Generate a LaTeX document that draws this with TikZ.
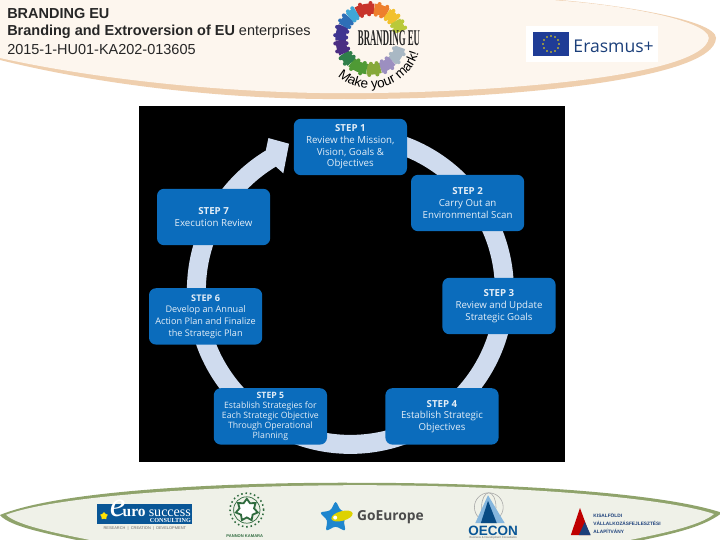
\documentclass[tikz,border=0pt]{standalone}
\usepackage{fontspec}
\setmainfont{Open Sans}
\newfontfamily\headfont{Liberation Sans}
\newfontfamily\logofont{Liberation Serif}
\usetikzlibrary{arrows.meta, positioning, shapes.geometric, calc, decorations.text}
\definecolor{cstep}{HTML}{0B6CBC}
\definecolor{cring}{HTML}{CFDBEE}
\definecolor{ctext}{HTML}{E4EEF7}
\definecolor{ccream}{HTML}{FDF6EE}
\definecolor{ctan}{HTML}{EFCFAE}
\definecolor{csage}{HTML}{EFF1E8}
\definecolor{cmoss}{HTML}{8FA36B}
\definecolor{cflag}{HTML}{1F3C96}
\definecolor{cnavy}{HTML}{1B3F7A}
\definecolor{cseal}{HTML}{2F6B3E}
\definecolor{cstar}{HTML}{1E86CE}
\tikzset{
  stepbox/.style={fill=cstep, rounded corners=5pt, minimum width=2.83cm, minimum height=1.41cm, inner sep=1pt,
    align=center, text=ctext, font=\fontsize{6.9}{8.3}\selectfont, execute at begin node={\rule{0pt}{7.5pt}}},
  stepboxtight/.style={stepbox, font=\fontsize{6.2}{7.1}\selectfont},
  ring/.style={cring, line width=0.475cm},
  head/.style={font=\headfont\fontsize{10.3}{12}\selectfont, anchor=west, text=black!85, inner sep=0pt},
  tiny/.style={font=\headfont\fontsize{2.6}{3}\selectfont, text=black!60},
}
\begin{document}
\begin{tikzpicture}
  \clip (0,0) rectangle (18,13.5);
  \fill[white] (0,0) rectangle (18,13.5);
  % ---------- top band
  \fill[ctan] (0,12) .. controls (2.5,11.375) and (5.75,11) .. (8.6,11.025) .. controls (12.5,11) and (17.875,11.5) .. (17.9,12.55)
    .. controls (17.9,13) and (15.5,13.375) .. (14,13.5) -- (0,13.5) -- cycle;
  \fill[ccream] (0,12.05) .. controls (2.5,11.5) and (5.75,11.17) .. (8.6,11.17) .. controls (12.5,11.17) and (17.6,11.6) .. (17.72,12.55)
    .. controls (17.7,13) and (15.5,13.39) .. (13.8,13.5) -- (0,13.5) -- cycle;
  \node[head] (brand) at (0.175,13.15) {\textbf{BRANDING EU}};
  \node[head] (title) at (0.175,12.7) {\textbf{Branding and Extroversion of EU} enterprises};
  \node[head] (code) at (0.175,12.27) {2015-1-HU01-KA202-013605};
  % ---------- round logo
  \coordinate (badge) at (9.275,12.525);
  \foreach \a/\b/\c in {118/84/C8342B, 84/58/EE7F2D, 58/36/F2C12E, 36/14/B9C93A, -16/-46/A9B8C4, -46/-72/9C8FC0, -72/-98/86A83A, -98/-130/4F9A35,
    -130/-152/2F7F4A, -152/-178/4B2E83, -178/-205/3F3590, -205/-225/2E6FB7, -225/-242/3FA7D6} {
    \definecolor{cpiece}{HTML}{\c}
    \draw[cpiece, line width=0.26cm] (badge) ++(\a:0.76) arc[start angle=\a, end angle=\b, radius=0.76];
    \foreach \t in {0.2,0.7} \fill[cpiece] ($(badge)+({\a+(\b-\a)*\t}:0.62)$) circle (0.05) ($(badge)+({\a+(\b-\a)*(1-\t)}:0.9)$) circle (0.05);
  }
  \node[font=\logofont\bfseries\fontsize{16}{16}\selectfont, xscale=0.39, text=black!85] (badgename) at (9.725,12.54) {BRANDING EU};
  \path[decorate, decoration={text along path, text align=center,
      text={|\headfont\fontsize{9.6}{12}\selectfont|Make your mark!}}]
    (badge) ++(-140:1.24) arc[start angle=-140, end angle=-8, radius=1.24];
  % ---------- erasmus logo
  \fill[white] (13.15,11.95) rectangle (16.45,12.85);
  \fill[cflag] (13.33,12.1) rectangle (14.22,12.7);
  \coordinate (flag) at (13.775,12.4);
  \foreach \a in {0,30,...,330} \fill[yellow!85!orange] (flag) ++(\a:0.2) circle (0.022);
  \node[font=\fontsize{12.5}{12}\selectfont, text=cnavy, anchor=west, inner sep=0pt] (erasmus) at (14.33,12.33) {Erasmus+};
  % ---------- bottom band
  \fill[cmoss] (0,0.625) .. controls (1.5,1.25) and (5.75,1.45) .. (9,1.43) .. controls (12.5,1.43) and (16.5,1.2) .. (18.05,0.68)
    .. controls (17.5,0.25) and (16.5,0.1) .. (15.5,-0.125) -- (2.5,-0.125) .. controls (1.5,0.1) and (0.25,0.3) .. (0,0.625);
  \fill[csage] (0.15,0.63) .. controls (1.5,1.14) and (5.75,1.37) .. (9,1.37) .. controls (12.5,1.37) and (16.5,1.1) .. (17.85,0.65)
    .. controls (17.5,0.35) and (16.5,0.15) .. (15.5,-0.05) -- (2.5,-0.05) .. controls (1.5,0.15) and (0.45,0.35) .. (0.15,0.63);
  % ---------- eurosuccess logo
  \fill[cstep!80!black] (2.43,0.4) rectangle (4.8,0.9);
  \node[star, star points=5, fill=yellow!85!orange, minimum size=0.2cm, inner sep=0pt] (eurostar) at (2.6,0.6) {};
  \node[font=\logofont\itshape\fontsize{25}{25}\selectfont, text=white, inner sep=0pt] (euroe) at (2.94,0.8) {e};
  \node[font=\logofont\bfseries\fontsize{11}{11}\selectfont, text=white, anchor=west, inner sep=0pt] (euro) at (3.06,0.68) {uro};
  \node[font=\logofont\fontsize{10}{10}\selectfont, text=white, anchor=east, inner sep=0pt] (success) at (4.78,0.68) {success};
  \node[font=\logofont\bfseries\fontsize{4.4}{4.4}\selectfont, text=white, anchor=east, inner sep=0pt] (consulting) at (4.78,0.49) {CONSULTING};
  \node[tiny, font=\headfont\fontsize{2.8}{3}\selectfont] (tagline) at (3.62,0.3) {RESEARCH \ | \ CREATION \ | \ DEVELOPMENT};
  % ---------- seal logo
  \coordinate (seal) at (6.17,0.75);
  \draw[cseal, line width=1.1pt, dotted] (seal) circle (0.42);
  \draw[cseal, line width=0.5pt] (seal) circle (0.33);
  \node[star, star points=7, star point ratio=1.5, draw=cseal, line width=1.3pt, fill=white, minimum size=0.56cm, inner sep=0pt] (sealstar) at (seal) {};
  \node[tiny, font=\headfont\bfseries\fontsize{2.9}{4}\selectfont, text=cseal] (sealname) at (6.12,0.09) {PANNON KAMARA};
  % ---------- goeurope logo
  \node[star, star points=5, star point ratio=2, fill=cstar, rounded corners=2pt, minimum size=0.85cm, inner sep=0pt] (gostar) at (8.39,0.56) {};
  \node[ellipse, fill=yellow!70!olive, minimum width=0.55cm, minimum height=0.24cm, inner sep=0pt, rotate=15] (goblob) at (8.55,0.6) {};
  \node[circle, fill=white, minimum size=0.1cm, inner sep=0pt] (godot) at (8.38,0.56) {};
  \node[font=\bfseries\fontsize{9.8}{10}\selectfont, text=black!70, anchor=west, inner sep=0pt] (goname) at (8.92,0.56) {GoEurope};
  % ---------- oecon logo
  \coordinate (dome) at (12.22,0.82);
  \draw[black!35, line width=0.4pt] (dome) circle (0.36);
  \draw[black!35, line width=0.4pt] (dome) ellipse (0.18 and 0.36);
  \fill[cstep!50!white] (12.2,1.12) -- (11.88,0.42) -- (12.62,0.42) -- cycle;
  \fill[cstep!70!black] (12.2,0.98) -- (12.02,0.42) -- (12.42,0.42) -- cycle;
  \node[font=\headfont\bfseries\fontsize{9.6}{10}\selectfont, text=cstep!80!black, inner sep=0pt] (oecon) at (12.33,0.23) {OECON};
  \node[tiny, font=\headfont\fontsize{2}{2}\selectfont] (oeconline) at (12.33,0.05) {Business \& Development Consultants};
  % ---------- foundation logo
  \fill[red!75!black] (14.5,0.8) -- (14.27,0.12) -- (14.75,0.12) -- cycle;
  \fill[cnavy] (14.62,0.45) -- (14.47,0.12) -- (14.77,0.12) -- cycle;
  \node[font=\headfont\bfseries\fontsize{3.4}{5.6}\selectfont, text=cnavy, align=left, anchor=west, inner sep=0pt] (foundation) at (14.83,0.42)
    {KISALFÖLDI\\VÁLLALKOZÁSFEJLESZTÉSI\\ALAPÍTVÁNY};
  % ---------- steps on black
  \fill[black] (3.475,1.95) rectangle (14.125,10.85);
  \coordinate (hub) at (8.76,6.24);
  \coordinate (ringstart) at ($(hub)+(90:3.85)$);
  \draw[ring] (ringstart) arc[start angle=90, end angle=-241, radius=3.85];
  \fill[cring] ($(hub)+(118.3:4.325)$) -- ($(hub)+(112.7:3.975)$) -- ($(hub)+(119.8:3.375)$) -- ($(hub)+(121:3.6)$) -- ($(hub)+(121:4.1)$) -- cycle;
  \node[stepbox] (step1) at (8.76,9.825) {\textbf{STEP 1}\\Review the Mission,\\Vision, Goals \&\\Objectives};
  \node[stepbox] (step2) at (11.69,8.425) {\textbf{STEP 2}\\Carry Out an\\Environmental Scan};
  \node[stepbox] (step3) at (12.475,5.85) {\textbf{STEP 3}\\Review and Update\\Strategic Goals};
  \node[stepbox] (step4) at (11.05,3.09) {\textbf{STEP 4}\\Establish Strategic\\Objectives};
  \node[stepboxtight] (step5) at (6.76,3.09) {\textbf{STEP 5}\\Establish Strategies for\\Each Strategic Objective\\Through Operational\\Planning};
  \node[stepbox, font=\fontsize{6.5}{8.3}\selectfont] (step6) at (5.14,5.59) {\textbf{STEP 6}\\Develop an Annual\\Action Plan and Finalize\\the Strategic Plan};
  \node[stepbox] (step7) at (5.34,8.075) {\textbf{STEP 7}\\Execution Review};
\end{tikzpicture}
\end{document}
